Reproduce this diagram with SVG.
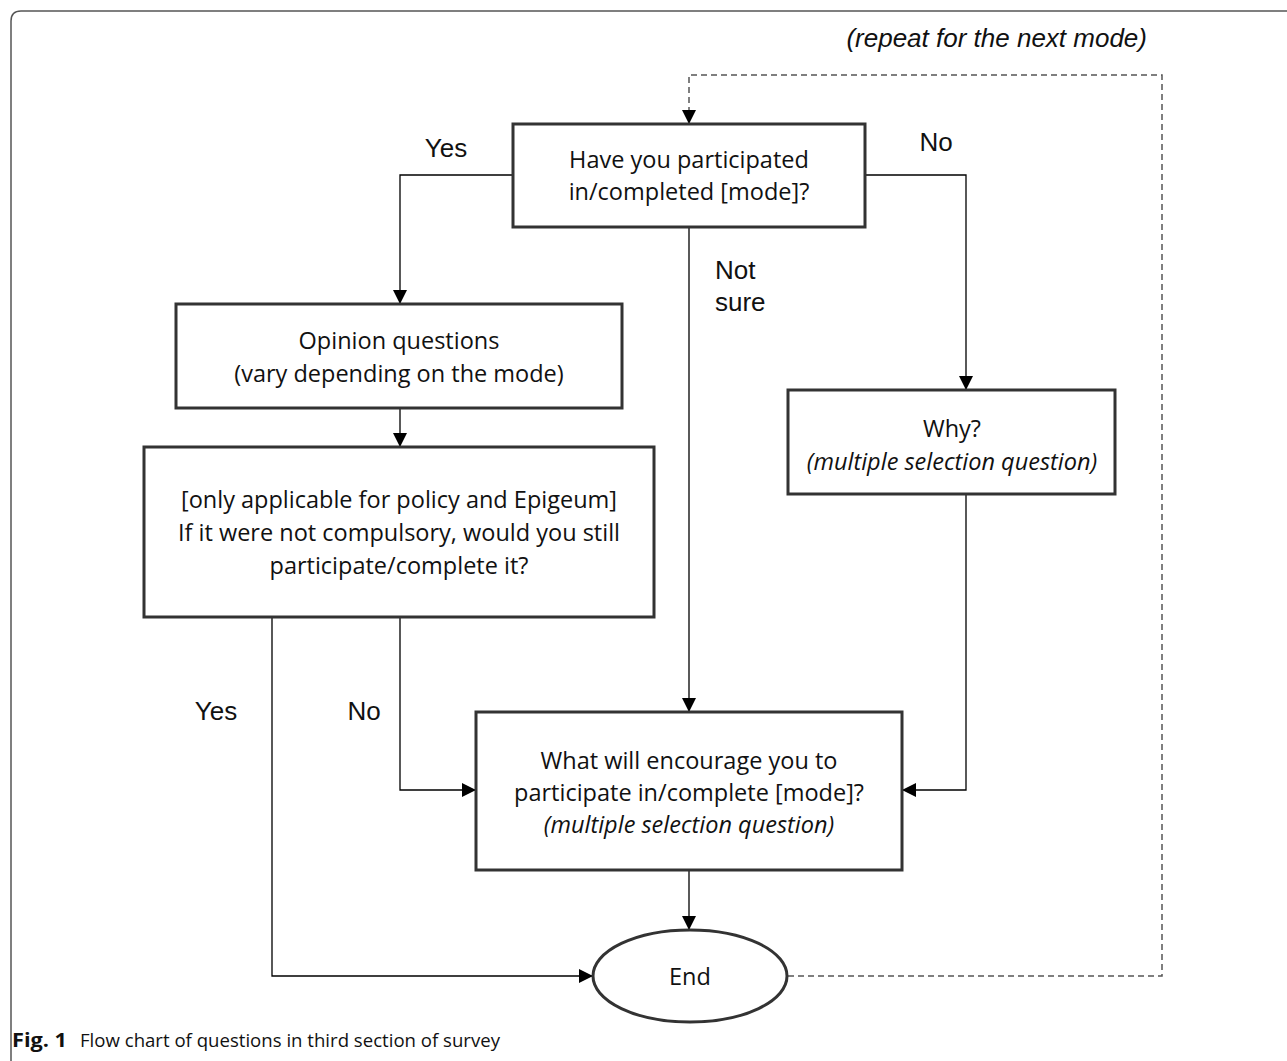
<svg xmlns="http://www.w3.org/2000/svg" width="1287" height="1061" viewBox="0 0 1287 1061">
<defs>
<marker id="arr" markerWidth="14" markerHeight="14" refX="13" refY="7" orient="auto" markerUnits="userSpaceOnUse">
<path d="M0,0 L14,7 L0,14 Z" fill="#000"/>
</marker>
<style>
.box{fill:#fff;stroke:#333;stroke-width:3}
.t{font-family:"Open Sans","Noto Sans",sans-serif;font-size:23.5px;fill:#111;text-anchor:middle}
.i{font-style:italic}
.lbl{font-family:"Liberation Sans",Arial,sans-serif;font-size:26px;fill:#111}
.c{fill:none;stroke:#000;stroke-width:1.3}
.d{fill:none;stroke:#555;stroke-width:1.5;stroke-dasharray:6 4}
</style>
</defs>
<rect width="1287" height="1061" fill="#fff"/>
<path d="M11,1061 L11,21 Q11,11 21,11 L1287,11" fill="none" stroke="#555" stroke-width="1.5"/>

<g id="connectors">
<path class="d" d="M788,976 H1162 V75 H689 V123" marker-end="url(#arr)"/>
<path class="c" d="M513,175 H400 V303" marker-end="url(#arr)"/>
<path class="c" d="M865,175 H966 V389" marker-end="url(#arr)"/>
<path class="c" d="M689,227 V711" marker-end="url(#arr)"/>
<path class="c" d="M400,408 V446" marker-end="url(#arr)"/>
<path class="c" d="M400,617 V790 H475" marker-end="url(#arr)"/>
<path class="c" d="M272,617 V976 H592" marker-end="url(#arr)"/>
<path class="c" d="M966,494 V790 H903" marker-end="url(#arr)"/>
<path class="c" d="M689,870 V929" marker-end="url(#arr)"/>
</g>

<g id="labels">
<text class="lbl i" x="1147" y="47" text-anchor="end">(repeat for the next mode)</text>
<text class="lbl" x="446" y="157" text-anchor="middle">Yes</text>
<text class="lbl" x="936" y="151" text-anchor="middle">No</text>
<text class="lbl" x="715" y="279">Not</text>
<text class="lbl" x="715" y="311">sure</text>
<text class="lbl" x="216" y="720" text-anchor="middle">Yes</text>
<text class="lbl" x="364" y="720" text-anchor="middle">No</text>
</g>

<g id="q1">
<rect class="box" x="513" y="124" width="352" height="103"/>
<text class="t" x="689" y="168">Have you participated</text>
<text class="t" x="689" y="200">in/completed [mode]?</text>
</g>

<g id="opinion">
<rect class="box" x="176" y="304" width="446" height="104"/>
<text class="t" x="399" y="349">Opinion questions</text>
<text class="t" x="399" y="382">(vary depending on the mode)</text>
</g>

<g id="compulsory">
<rect class="box" x="144" y="447" width="510" height="170"/>
<text class="t" x="399" y="508">[only applicable for policy and Epigeum]</text>
<text class="t" x="399" y="541">If it were not compulsory, would you still</text>
<text class="t" x="399" y="574">participate/complete it?</text>
</g>

<g id="why">
<rect class="box" x="788" y="390" width="327" height="104"/>
<text class="t" x="952" y="437">Why?</text>
<text class="t i" x="952" y="470">(multiple selection question)</text>
</g>

<g id="encourage">
<rect class="box" x="476" y="712" width="426" height="158"/>
<text class="t" x="689" y="769">What will encourage you to</text>
<text class="t" x="689" y="801">participate in/complete [mode]?</text>
<text class="t i" x="689" y="833">(multiple selection question)</text>
</g>

<g id="end">
<ellipse class="box" cx="690" cy="976" rx="97" ry="46"/>
<text class="t" x="690" y="985">End</text>
</g>

<g id="caption">
<text x="12" y="1047" font-family="'Open Sans','Noto Sans',sans-serif" font-size="19" font-weight="bold" fill="#111" textLength="55" lengthAdjust="spacingAndGlyphs">Fig. 1</text>
<text x="80" y="1047" font-family="'Open Sans','Noto Sans',sans-serif" font-size="19" fill="#111" textLength="420" lengthAdjust="spacingAndGlyphs">Flow chart of questions in third section of survey</text>
</g>
</svg>
